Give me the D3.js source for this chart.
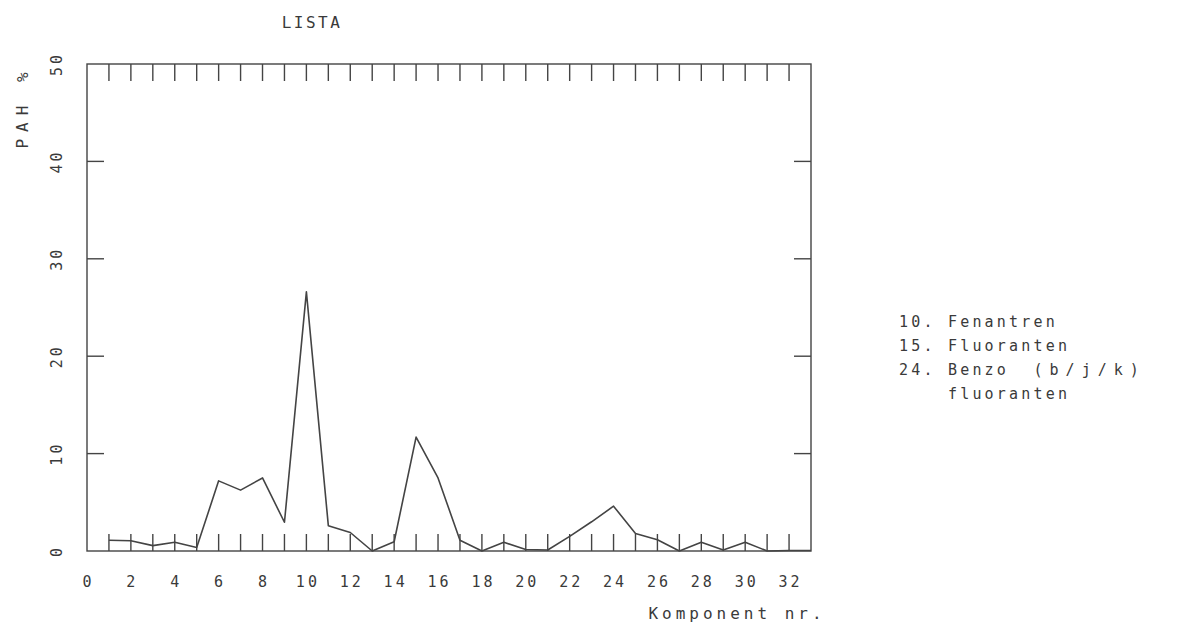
<!DOCTYPE html>
<html>
<head>
<meta charset="utf-8">
<script src="https://cdn.jsdelivr.net/npm/d3@7"></script>
<style>
  body { margin: 0; background: #fff; }
  svg text { font-family: "DejaVu Sans Mono", monospace; fill: #3a3a3a; }
</style>
</head>
<body>
<svg id="chart" width="1184" height="627"></svg>
<script>
// component number (x) and PAH share in % (y)
const komponent = d3.range(1, 34);
const pahPct = [1.1, 1.05, 0.55, 0.9, 0.35, 7.2, 6.25, 7.5, 2.95, 26.6,
                2.6, 1.9, 0.0, 0.95, 11.7, 7.5, 1.1, 0.0, 0.9, 0.15,
                0.1, 1.5, 3.0, 4.6, 1.8, 1.15, 0.0, 0.9, 0.1, 0.9,
                0.0, 0.05, 0.05];
const xTickLabels = d3.range(0, 33, 2);
const yTickLabels = [0, 10, 20, 30, 40, 50];
const legendLines = ["10. Fenantren", "15. Fluoranten", "24. Benzo  (b/j/k)", "    fluoranten"];

const svg = d3.select("#chart");
const plotLeft = 87, plotRight = 811, plotTop = 64, plotBottom = 551;
const tickLen = 17;
const ink = "#444";

const x = d3.scaleLinear().domain([0, 33]).range([plotLeft, plotRight]);
const y = d3.scaleLinear().domain([0, 50]).range([plotBottom, plotTop]);

// frame
svg.append("rect")
    .attr("x", plotLeft).attr("y", plotTop)
    .attr("width", plotRight - plotLeft).attr("height", plotBottom - plotTop)
    .attr("fill", "none").attr("stroke", ink).attr("stroke-width", 1.4);

// inner ticks, top and bottom at every component
const g = svg.append("g").attr("stroke", ink).attr("stroke-width", 1.4);
d3.range(1, 33).forEach(k => {
    g.append("line").attr("x1", x(k)).attr("x2", x(k))
        .attr("y1", plotTop).attr("y2", plotTop + tickLen);
    g.append("line").attr("x1", x(k)).attr("x2", x(k))
        .attr("y1", plotBottom).attr("y2", plotBottom - tickLen);
});
// y ticks both sides
[10, 20, 30, 40].forEach(v => {
    g.append("line").attr("x1", plotLeft).attr("x2", plotLeft + tickLen)
        .attr("y1", y(v)).attr("y2", y(v));
    g.append("line").attr("x1", plotRight).attr("x2", plotRight - tickLen)
        .attr("y1", y(v)).attr("y2", y(v));
});

// data line
const line = d3.line()
    .x((d, i) => x(komponent[i]))
    .y(d => y(d));

svg.append("path")
    .datum(pahPct)
    .attr("d", line)
    .attr("fill", "none")
    .attr("stroke", ink)
    .attr("stroke-width", 1.6)
    .attr("stroke-linejoin", "round");

// x tick labels
svg.selectAll(".xl").data(xTickLabels).join("text")
    .attr("class", "xl")
    .attr("x", d => x(d) + (d >= 10 ? 1.5 : 0))
    .attr("y", 587)
    .attr("text-anchor", "middle")
    .attr("font-size", 15)
    .attr("letter-spacing", d => d >= 10 ? 3 : 0)
    .text(d => d);

// y tick labels (rotated)
svg.selectAll(".yl").data(yTickLabels).join("text")
    .attr("class", "yl")
    .attr("transform", d => `translate(62,${y(d)}) rotate(-90)`)
    .attr("text-anchor", "middle")
    .attr("font-size", 15)
    .attr("letter-spacing", 3)
    .text(d => d);

// y axis title
svg.append("text")
    .attr("transform", "translate(28,107) rotate(-90)")
    .attr("text-anchor", "middle")
    .attr("font-size", 16)
    .attr("letter-spacing", 7)
    .text("PAH %");

// title
svg.append("text")
    .attr("x", 312).attr("y", 28)
    .attr("text-anchor", "middle")
    .attr("font-size", 16)
    .attr("letter-spacing", 2.5)
    .text("LISTA");

// x axis title
svg.append("text")
    .attr("x", 737).attr("y", 619)
    .attr("text-anchor", "middle")
    .attr("font-size", 16)
    .attr("letter-spacing", 4)
    .text("Komponent nr.");

// legend
const lg = svg.selectAll(".lg").data(legendLines).join("text")
    .attr("class", "lg")
    .attr("x", 899)
    .attr("y", (d, i) => 327 + i * 24)
    .attr("font-size", 15)
    .attr("letter-spacing", 3.2)
    .style("white-space", "pre");
lg.each(function(d) {
    const t = d3.select(this);
    const cut = d.indexOf("(");
    if (cut < 0) { t.text(d); return; }
    t.append("tspan").text(d.slice(0, cut));
    t.append("tspan").attr("letter-spacing", 7).text(d.slice(cut));
});
</script>
</body>
</html>
